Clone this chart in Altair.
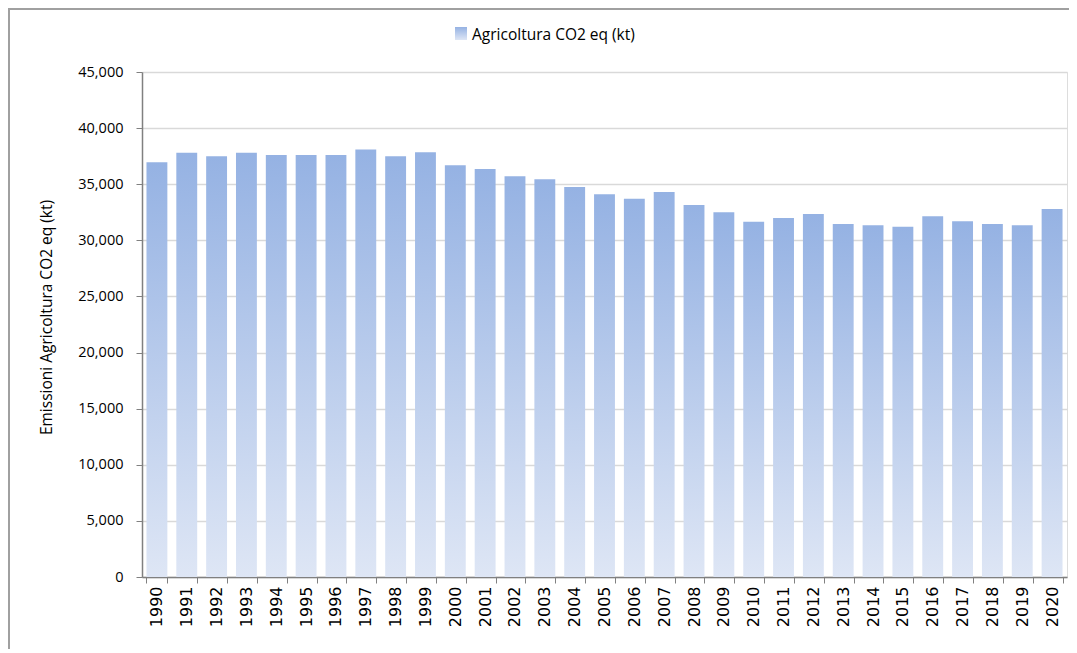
import altair as alt
import pandas as pd

years = [str(y) for y in range(1990, 2021)]
values = [36950, 37800, 37500, 37800, 37600, 37600, 37600, 38100, 37500, 37850,
          36700, 36350, 35700, 35450, 34750, 34100, 33700, 34300, 33150, 32500,
          31650, 32000, 32350, 31450, 31350, 31200, 32150, 31700, 31450, 31350,
          32800]
series_name = "Agricoltura CO2 eq (kt)"
y_title = "Emissioni Agricoltura CO2 eq (kt)"

df = pd.DataFrame({"Anno": years, "Valore": values})

grad = alt.Gradient(
    gradient="linear",
    stops=[alt.GradientStop(color="#95B2E3", offset=0),
           alt.GradientStop(color="#DEE6F5", offset=1)],
    x1=0, x2=0, y1=0, y2=1,
)

W, H = 925, 505

bars = alt.Chart(df).mark_bar(color=grad).encode(
    x=alt.X("Anno:N", sort=years, title=None,
            scale=alt.Scale(paddingInner=0.3, paddingOuter=0.15),
            axis=alt.Axis(labelAngle=-90, labelFont="DejaVu Sans", labelFontSize=16,
                          labelColor="#000000", labelPadding=3, tickSize=6,
                          tickBand="extent", tickColor="#808080",
                          domainColor="#808080", domainWidth=1.5,
                          labelBaseline="middle", labelAlign="right")),
    y=alt.Y("Valore:Q", title=y_title,
            scale=alt.Scale(domain=[0, 45000], nice=False),
            axis=alt.Axis(values=list(range(0, 45001, 5000)), format=",.0f",
                          labelFont="Open Sans", labelFontSize=14.5, labelColor="#000000",
                          labelPadding=13, tickSize=6, tickColor="#808080",
                          domainColor="#808080", domainWidth=1.5,
                          gridColor="#D9D9D9", gridWidth=1.5,
                          titleFont="Open Sans", titleFontSize=15.5, titleFontWeight="normal",
                          titleColor="#000000", titlePadding=23, titleY=245)),
)

legend_sq = alt.Chart(pd.DataFrame({"s": [series_name]})).mark_rect(color=grad).encode(
    x=alt.value(313), x2=alt.value(325), y=alt.value(-45), y2=alt.value(-32)
)
legend_txt = alt.Chart(pd.DataFrame({"s": [series_name]})).mark_text(
    align="left", baseline="alphabetic", font="Open Sans", fontSize=15.5, color="#000000"
).encode(x=alt.value(330), y=alt.value(-32), text="s:N")

frame_top = alt.Chart(pd.DataFrame({"s": [1]})).mark_rule(
    stroke="#A0A0A0", strokeWidth=2
).encode(x=alt.value(-134), x2=alt.value(960), y=alt.value(-63))
frame_left = alt.Chart(pd.DataFrame({"s": [1]})).mark_rule(
    stroke="#A0A0A0", strokeWidth=2
).encode(x=alt.value(-133), y=alt.value(-64), y2=alt.value(700))

chart = alt.layer(frame_top, frame_left, bars, legend_sq, legend_txt).properties(
    width=W, height=H,
    autosize=alt.AutoSizeParams(type="none"),
    padding={"left": 134, "top": 64, "right": 2, "bottom": 72},
).configure_view(stroke=None).configure(background="white")

chart.save("out.html", embed_options={"renderer": "svg", "actions": False})
